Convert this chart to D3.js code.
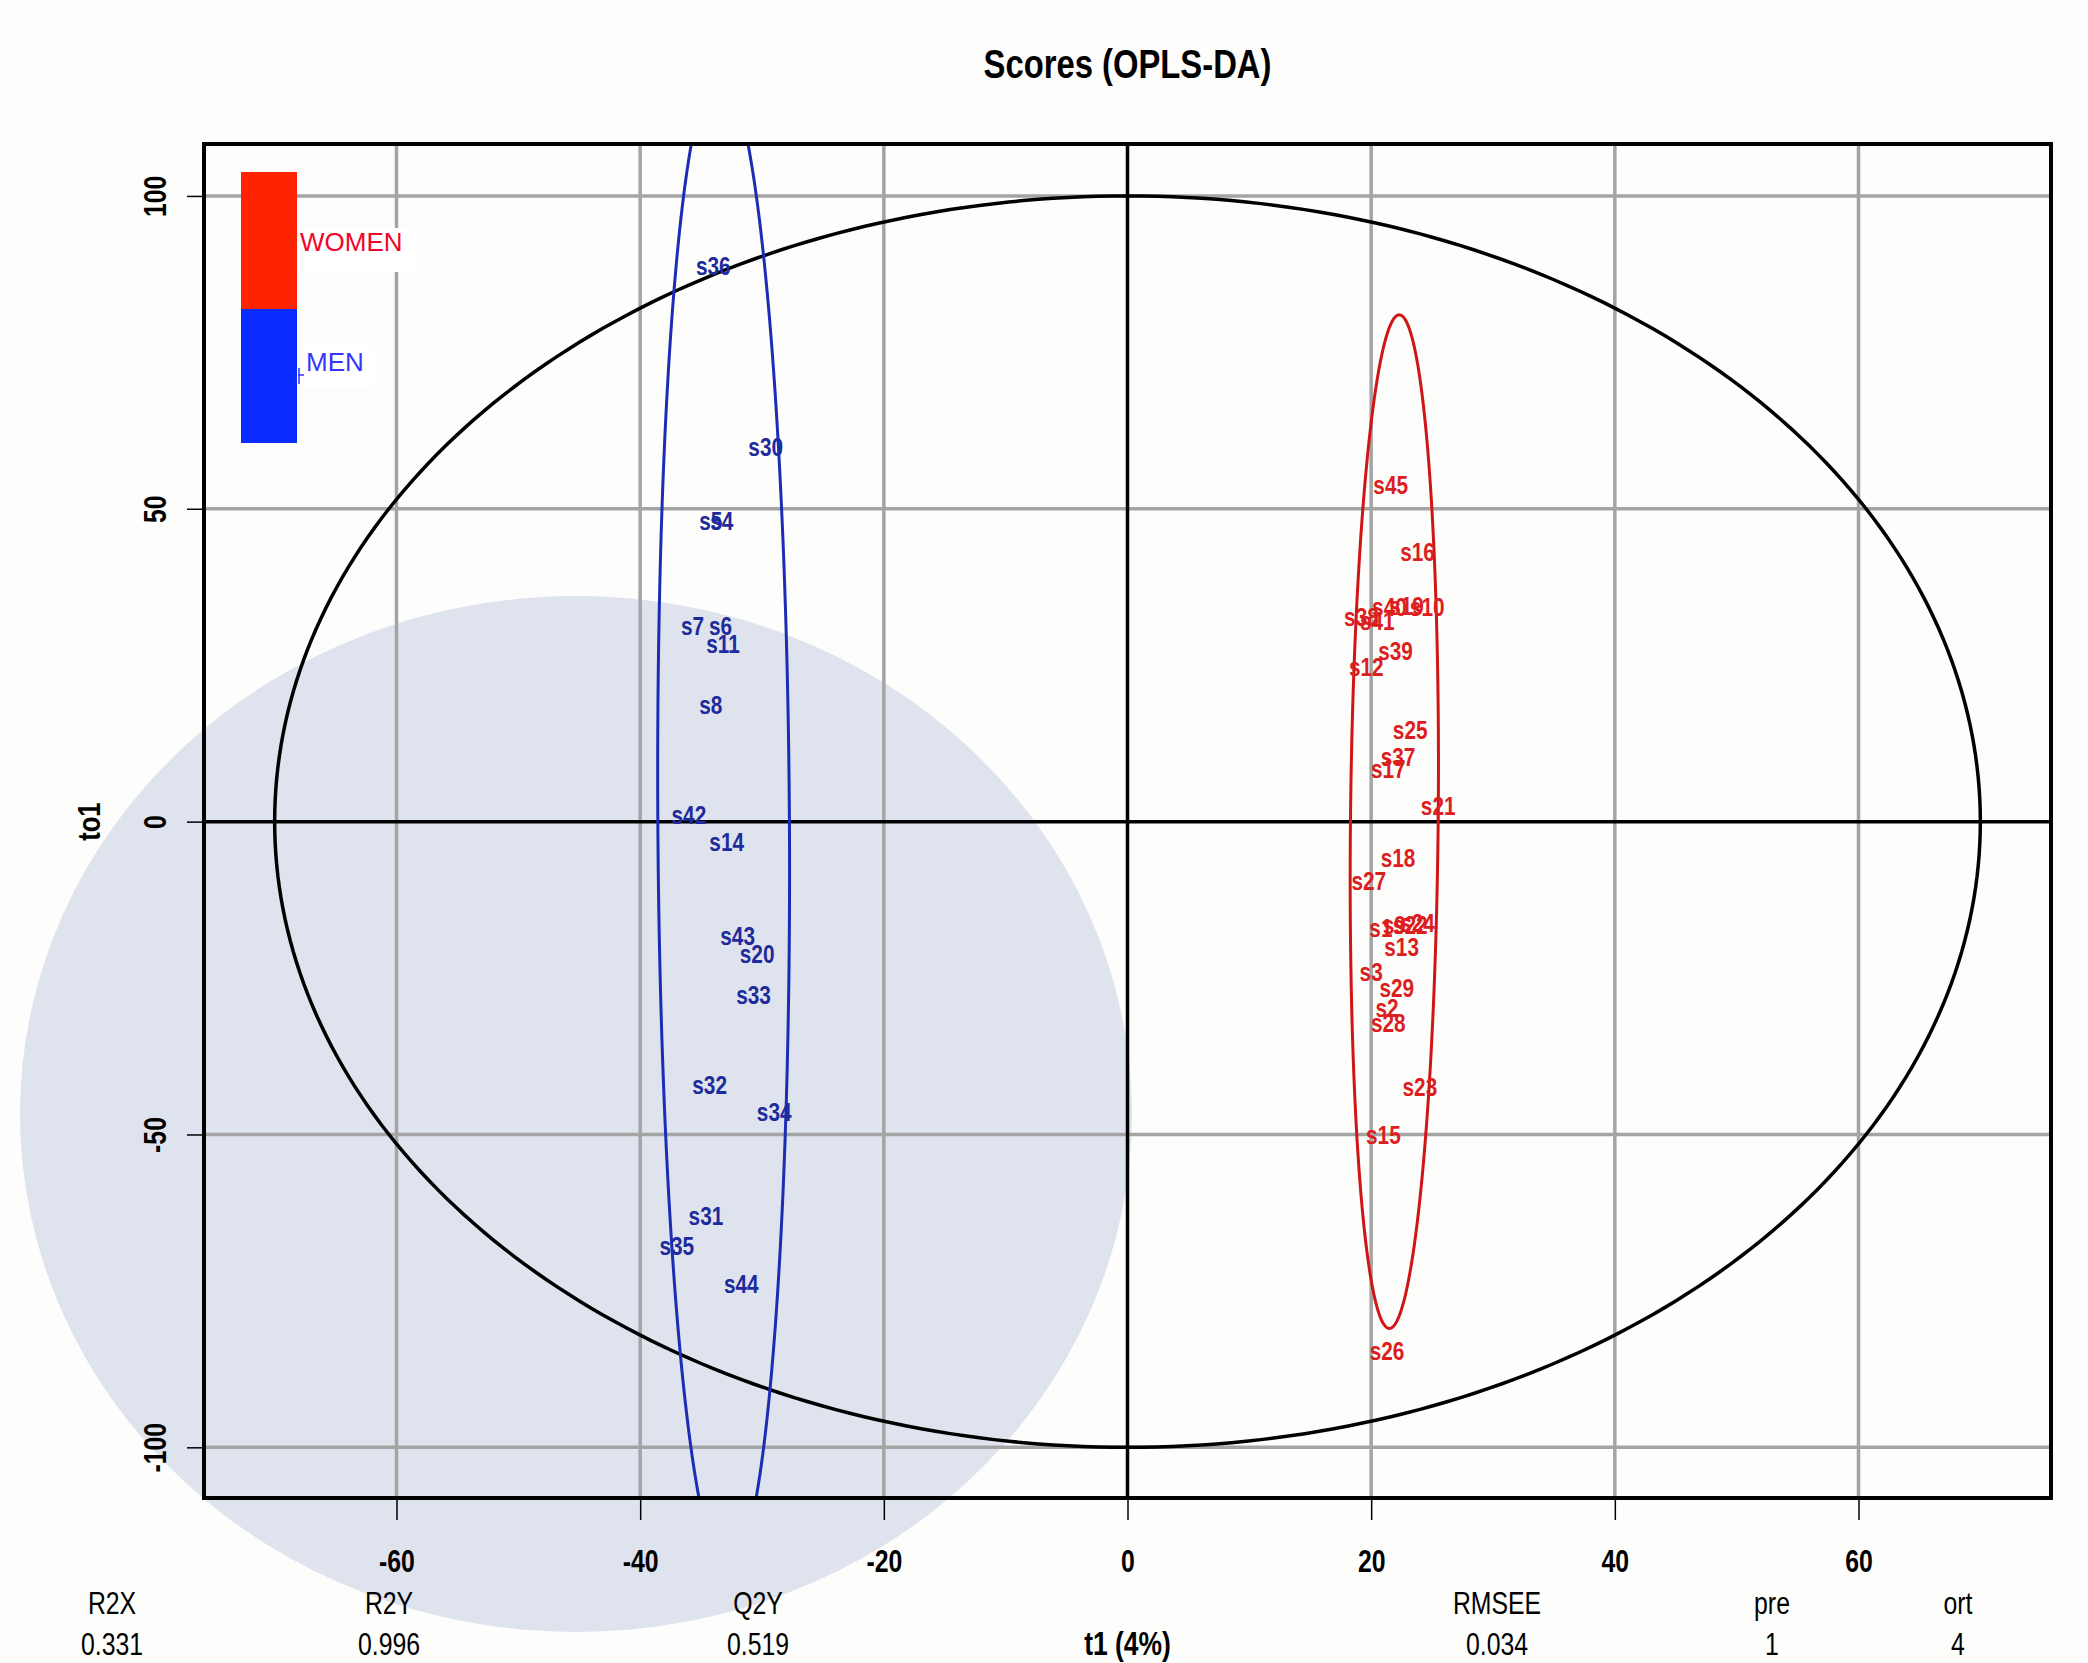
<!DOCTYPE html>
<html>
<head>
<meta charset="utf-8">
<script src="https://cdn.jsdelivr.net/npm/d3@7"></script>
<style>
body { margin: 0; background: #fdfdfb; }
svg { display: block; }
text { font-family: 'Liberation Sans', Arial, sans-serif; }
</style>
</head>
<body>
<svg id="chart" width="2088" height="1663"></svg>
<script>
// sample scores
var menLabels = ['s36', 's30', 's5', 's4', 's7', 's6', 's11', 's8', 's42', 's14', 's43', 's20', 's33', 's32', 's34', 's31', 's35', 's44'];
var menT1 = [-34.0, -29.7, -34.2, -33.3, -35.7, -33.4, -33.2, -34.2, -36.0, -32.9, -32.0, -30.4, -30.7, -34.3, -29.0, -34.6, -37.0, -31.7];
var menTo1 = [88.9, 60.0, 48.1, 48.1, 31.3, 31.3, 28.5, 18.7, 1.1, -3.2, -18.3, -21.1, -27.7, -42.1, -46.4, -63.0, -67.7, -73.8];

var womenLabels = ['s45', 's16', 's38', 's41', 's40', 's19', 's10', 's39', 's12', 's25', 's37', 's17', 's21', 's18', 's27',
    's1', 's9', 's22', 's24', 's13', 's3', 's29', 's2', 's28', 's23', 's15', 's26'];
var womenT1 = [21.6, 23.8, 19.2, 20.5, 21.5, 22.9, 24.6, 22.0, 19.6, 23.2, 22.2, 21.4, 25.5, 22.2, 19.8,
    20.8, 21.9, 23.2, 23.8, 22.5, 20.0, 22.1, 21.3, 21.4, 24.0, 21.0, 21.3];
var womenTo1 = [53.8, 43.2, 32.8, 32.2, 34.3, 34.5, 34.3, 27.4, 24.7, 14.7, 10.4, 8.5, 2.6, -5.7, -9.4,
    -17.0, -16.4, -16.4, -16.2, -20.0, -24.0, -26.6, -29.8, -32.1, -42.3, -50.0, -84.5];

// ellipses: Hotelling T2, then one per group
var ellipseCx = [0, -33.15, 21.9];
var ellipseCy = [0, 0, 0];
var ellipseRx = [70, 5.4, 3.6];
var ellipseRy = [100, 120, 81];
var ellipseShear = [0, -0.003, 0.005];

var xTicks = [-60, -40, -20, 0, 20, 40, 60];
var yTicks = [-100, -50, 0, 50, 100];
var xDomain = [-75.8, 75.8];
var yDomain = [-108.1, 108.3];

var legendNames = ['WOMEN', 'MEN'];
var statNames = ['R2X', 'R2Y', 'Q2Y', 'RMSEE', 'pre', 'ort'];
var statValues = ['0.331', '0.996', '0.519', '0.034', '1', '4'];

var plotLeft = 204, plotRight = 2051, plotTop = 144, plotBottom = 1498;
var narrowK = 0.8; // the R device font is a narrow helvetica
var svg = d3.select('#chart');

var x = d3.scaleLinear().domain(xDomain).range([plotLeft, plotRight]);
var y = d3.scaleLinear().domain(yDomain).range([plotBottom, plotTop]);

// text squeezed sideways, anchored at (px, py)
function narrowText(parent, px, py, str, size, bold, extra) {
    return parent.append('text')
        .attr('transform', 'translate(' + px + ',' + py + ')' + (extra || '') + ' scale(' + narrowK + ',1)')
        .attr('text-anchor', 'middle')
        .style('font-size', size + 'px')
        .style('font-weight', bold ? 'bold' : 'normal')
        .text(str);
}

svg.append('rect').attr('width', 2088).attr('height', 1663).style('fill', '#fdfdfb');

// the pale round blot behind the lower left of the figure
svg.append('ellipse')
    .attr('cx', 576).attr('cy', 1114)
    .attr('rx', 556).attr('ry', 518)
    .style('fill', '#dfe3ed');

svg.append('clipPath').attr('id', 'plotClip')
    .append('rect').attr('x', plotLeft).attr('y', plotTop)
    .attr('width', plotRight - plotLeft).attr('height', plotBottom - plotTop);

var plot = svg.append('g').attr('clip-path', 'url(#plotClip)');

// grid
plot.selectAll(null).data(xTicks.filter(function (d) { return d != 0; })).enter().append('line')
    .attr('x1', function (d) { return x(d); }).attr('x2', function (d) { return x(d); })
    .attr('y1', plotTop).attr('y2', plotBottom)
    .style('stroke', '#a4a4a4').style('stroke-width', 3.5);
plot.selectAll(null).data(yTicks.filter(function (d) { return d != 0; })).enter().append('line')
    .attr('y1', function (d) { return y(d); }).attr('y2', function (d) { return y(d); })
    .attr('x1', plotLeft).attr('x2', plotRight)
    .style('stroke', '#a4a4a4').style('stroke-width', 3.5);
plot.append('line').attr('x1', x(0)).attr('x2', x(0)).attr('y1', plotTop).attr('y2', plotBottom)
    .style('stroke', 'black').style('stroke-width', 3.5);
plot.append('line').attr('y1', y(0)).attr('y2', y(0)).attr('x1', plotLeft).attr('x2', plotRight)
    .style('stroke', 'black').style('stroke-width', 3.5);

function ellipsePoints(i) {
    return d3.range(0, 360, 1).map(function (a) {
        var t = a * Math.PI / 180;
        var dy = ellipseRy[i] * Math.sin(t);
        return [ellipseCx[i] + ellipseRx[i] * Math.cos(t) + ellipseShear[i] * dy, ellipseCy[i] + dy];
    });
}
var ellipseLine = d3.line()
    .x(function (d) { return x(d[0]); })
    .y(function (d) { return y(d[1]); })
    .curve(d3.curveLinearClosed);
var ellipseColors = ['black', '#1b2cb5', '#cf1515'];
var ellipseWidths = [3.5, 3, 3];
[0, 1, 2].forEach(function (i) {
    plot.append('path').attr('d', ellipseLine(ellipsePoints(i)))
        .style('fill', 'none')
        .style('stroke', ellipseColors[i])
        .style('stroke-width', ellipseWidths[i]);
});

function drawLabels(labels, t1, to1, color) {
    labels.forEach(function (lab, i) {
        narrowText(plot, x(t1[i]), y(to1[i]), lab, 26, true)
            .attr('dy', '0.36em')
            .style('fill', color);
    });
}
drawLabels(menLabels, menT1, menTo1, '#1d2b9c');
drawLabels(womenLabels, womenT1, womenTo1, '#dc1e1e');

// frame
svg.append('rect').attr('x', plotLeft).attr('y', plotTop)
    .attr('width', plotRight - plotLeft).attr('height', plotBottom - plotTop)
    .style('fill', 'none').style('stroke', 'black').style('stroke-width', 4);

// axes
var xAxis = svg.append('g').attr('transform', 'translate(0,' + plotBottom + ')')
    .call(d3.axisBottom(x).tickValues(xTicks).tickSize(22).tickPadding(30).tickFormat(d3.format('d')));
xAxis.select('.domain').remove();
xAxis.selectAll('line').style('stroke', 'black').style('stroke-width', 1.5);
xAxis.selectAll('text')
    .attr('transform', 'scale(' + narrowK + ',1)')
    .style('font-family', "'Liberation Sans', Arial, sans-serif")
    .style('font-size', '31px').style('font-weight', 'bold').style('fill', 'black')
    .text(function (d) { return String(d); });

var yAxis = svg.append('g').attr('transform', 'translate(' + plotLeft + ',0)')
    .call(d3.axisLeft(y).tickValues(yTicks).tickSize(17).tickFormat(d3.format('d')));
yAxis.select('.domain').remove();
yAxis.selectAll('line').style('stroke', 'black').style('stroke-width', 1.5);
yAxis.selectAll('text')
    .attr('x', 0).attr('y', -38).attr('dy', null)
    .attr('transform', 'rotate(-90) scale(' + narrowK + ',1)')
    .attr('text-anchor', 'middle')
    .style('font-family', "'Liberation Sans', Arial, sans-serif")
    .style('font-size', '31px').style('font-weight', 'bold').style('fill', 'black')
    .text(function (d) { return String(d); });

// title and axis names
narrowText(svg, x(0), 78, 'Scores (OPLS-DA)', 41, true);
narrowText(svg, 100, y(0), 'to1', 32, true, ' rotate(-90)');
narrowText(svg, x(0), 1655, 't1 (4%)', 33, true);

// model summary under the plot
var statX = [112, 389, 758, 1497, 1772, 1958];
statNames.forEach(function (s, i) { narrowText(svg, statX[i], 1614, s, 31, false); });
statValues.forEach(function (s, i) { narrowText(svg, statX[i], 1655, s, 31, false); });

// legend colour bar
var legendColors = ['#ff2400', '#0a2bff'];
var legendTextColors = ['#f0052a', '#3535ff'];
var barY = [172, 309, 443];
legendNames.forEach(function (name, i) {
    svg.append('rect').attr('x', 241).attr('y', barY[i])
        .attr('width', 56).attr('height', barY[i + 1] - barY[i])
        .style('fill', legendColors[i]);
});
svg.append('rect').attr('x', 298).attr('y', 228).attr('width', 116).attr('height', 44).style('fill', 'white');
svg.append('rect').attr('x', 304).attr('y', 345).attr('width', 70).attr('height', 42).style('fill', 'white');
svg.append('path').attr('d', 'M298,375 L304,375 M299,368 L299,384')
    .style('stroke', '#3535ff').style('stroke-width', 1.5).style('fill', 'none');
var legendTextX = [300, 306];
var legendTextY = [251, 371];
legendNames.forEach(function (name, i) {
    svg.append('text').attr('x', legendTextX[i]).attr('y', legendTextY[i])
        .style('font-size', '26px').style('fill', legendTextColors[i]).text(name);
});
</script>
</body>
</html>
